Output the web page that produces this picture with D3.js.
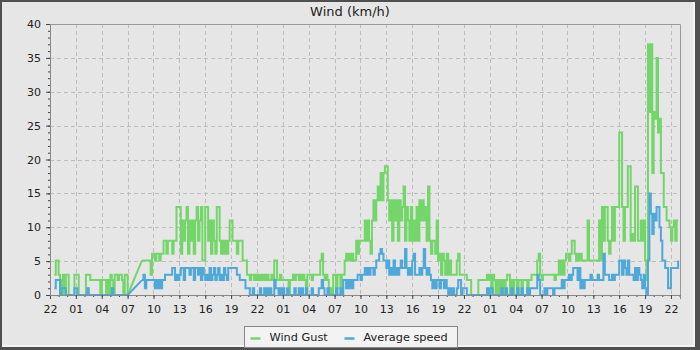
<!DOCTYPE html>
<html>
<head>
<meta charset="utf-8">
<script src="https://cdn.jsdelivr.net/npm/d3@7"></script>
<style>
	html, body { margin: 0; padding: 0; background: #e6e6e6; }
	svg { display: block; }
	text { font-family: "DejaVu Sans", sans-serif; fill: #222; }
</style>
</head>
<body>
<svg id="chart" width="700" height="350"></svg>
<script>
"use strict";

//readings every 10 minutes, starting 22:00 on the first evening. null = no reading
var startTime = new Date(2024, 0, 10, 22, 0);
var endTime = new Date(2024, 0, 13, 23, 3);
var stepMinutes = 10;
var seriesNames = ["Wind Gust", "Average speed"];
var yTicks = [0, 5, 10, 15, 20, 25, 30, 35, 40];

//one row per hour, six readings per row
var gust = [
	null, null, null, 3, 5.1, 5.1,        //22
	3, 2.2, 0, 3, 0, 3,                   //23
	3, 0, 0, 0, 0, 3,                     //00
	3, 3, 0, 0, 0, 0,                     //01
	0, 3, 3, 3, 2.2, 2.2,                 //02
	2.2, 2.2, 2.2, 2.2, 2.2, 0,           //03
	2.2, 2.2, 2.2, 0, 2.2, 0,             //04
	3, 2.2, 0, 3, 3, 2.2,                 //05
	3, 3, 2.2, 0, 3, 3,                   //06
	0, null, null, null, null, null,      //07
	null, null, null, null, 5.1, 5.1,     //08
	5.1, 5.1, 5.1, 5.1, 3, 6.1,           //09
	6.1, 5.1, 6.1, 6.1, 5.1, 6.1,         //10
	6.1, 8, 8, 6.1, 8, 8,                 //11
	8, 6.1, 8, 8, 13, 13,                 //12
	13, 6.1, 11, 8, 11, 13,               //13
	6.1, 11, 8, 11, 6.1, 11,              //14
	13, 8, 11, 13, 5.1, 5.1,              //15
	13, 13, 8, 11, 6.1, 11,               //16
	8, 6.1, 13, 13, 8, 6.1,               //17
	8, 6.1, 8, 6.1, 8, 11,                //18
	11, 8, 8, 8, 6.1, 8,                  //19
	8, 8, 5.1, 5.1, 5.1, 3,               //20
	3, 2.2, 3, 3, 2.2, 3,                 //21
	2.2, 3, 2.2, 3, 2.2, 3,               //22
	2.2, 3, 2.2, 2.2, 3, 2.2,             //23
	5.1, 5.1, 2.2, 2.2, 3, 2.2,           //00
	2.2, 2.2, 2.2, 2.2, 0, 2.2,           //01
	2.2, 3, 2.2, 3, 3, 2.2,               //02
	3, 2.2, 3, 2.2, 1, 3,                 //03
	3, 3, 2.2, 3, 3, 3,                   //04
	3, 3, 5.1, 6.1, 3, 2.2,               //05
	3, 2.2, 0, 1, 0, 3,                   //06
	3, 1, 3, 3, 1, 3,                     //07
	3, 5.1, 6.1, 5.1, 6.1, 5.1,           //08
	6.1, 5.1, 5.1, 8, 6.1, 8,             //09
	8, 8, 8, 11, 8, 11,                   //10
	8, 6.1, 11, 14, 11, 14,               //11
	16, 14, 18, 14, 18, 19,               //12
	19, 14, 11, 14, 8, 14,                //13
	11, 14, 8, 14, 11, 13,                //14
	16, 8, 13, 11, 8, 13,                 //15
	8, 11, 8, 13, 8, 14,                  //16
	11, 14, 11, 13, 8, 16,                //17
	8, 6.1, 8, 8, 6.1, 11,                //18
	5.1, 6.1, 3, 6.1, 5.1, 3,             //19
	6.1, 3, 5.1, 3, 3, 3,                 //20
	3, 5.1, 6.1, 3, 3, 3,                 //21
	3, 3, 2.2, 2.2, 2.2, 0,               //22
	0, 0, 0, 0, 2.2, 2.2,                 //23
	2.2, 2.2, 2.2, 2.2, 3, 2.2,           //00
	3, 0, 3, 2.2, 0, 2.2,                 //01
	0, 2.2, 0, 2.2, 0, 2.2,               //02
	3, 3, 0, 2.2, 0, 2.2,                 //03
	2.2, 0, 2.2, 2.2, 0, 2.2,             //04
	2.2, 2.2, 0, 2.2, 2.2, 3,             //05
	3, 3, 3, 5.1, 6.1, 3,                 //06
	2.2, 3, 3, 3, 3, 3,                   //07
	3, 3, 3, 2.2, 3, 3,                   //08
	5.1, 3, 5.1, 3, 5.1, 6.1,             //09
	6.1, 5.1, 6.1, 8, 8, 6.1,             //10
	5.1, 6.1, 5.1, 6.1, 5.1, 5.1,         //11
	5.1, 5.1, 11, 5.1, 5.1, 5.1,          //12
	5.1, 5.1, 5.1, 5.1, 11, 5.1,          //13
	13, 8, 13, 13, 8, 6.1,                //14
	8, 13, 8, 13, 13, 13,                 //15
	24, 24, 13, 8, 13, 13,                //16
	19, 19, 8, 9, 8, 16,                  //17
	16, 8, 8, 11, 8, 11,                  //18
	5.1, 2.2, 37, 27, 37, 18,             //19
	27, 26, 35, 24, 26, 18,               //20
	18, 13, 13, 11, 11, 10,               //21
	8, 10, 11, 8, 11, 11                  //22
];

var average = [
	null, null, null, 1, 2.2, 2.2,        //22
	2.2, 0, 1, 1, 1, 0,                   //23
	0, 0, 0, 0, 0, 1,                     //00
	1, 0, 0, 0, 0, 0,                     //01
	0, 0, 1, 0, 0, 0,                     //02
	0, 0, 0, 0, 0, 0,                     //03
	0, 0, 0, 0, 0, 0,                     //04
	0, 1, 0, 0, 0, 0,                     //05
	0, 0, 0, 0, 0, 0,                     //06
	0, null, null, null, null, null,      //07
	null, null, null, null, 2.2, 3,       //08
	1, 2.2, 2.2, 2.2, 2.2, 2.2,           //09
	2.2, 1, 2.2, 1, 2.2, 1,               //10
	2.2, 2.2, 3, 3, 3, 3,                 //11
	3, 4, 4, 2.2, 3, 2.2,                 //12
	3, 4, 4, 2.2, 4, 4,                   //13
	4, 3, 4, 4, 2.2, 4,                   //14
	4, 3, 4, 2.2, 4, 3,                   //15
	2.2, 3, 2.2, 4, 2.2, 3,               //16
	4, 2.2, 3, 4, 2.2, 3,                 //17
	2.2, 4, 3, 2.2, 4, 4,                 //18
	4, 4, 4, 4, 3, 3,                     //19
	2.2, 2.2, 2.2, 2.2, 1, 1,             //20
	1, 0, 0, 1, 0, 0,                     //21
	0, 0, 1, 0, 0, 1,                     //22
	0, 1, 0, 1, 0, 0,                     //23
	2.2, 1, 1, 0, 1, 0,                   //00
	1, 0, 0, 1, 0, 0,                     //01
	0, 0, 1, 0, 0, 1,                     //02
	0, 1, 0, 0, 1, 0,                     //03
	0, 0, 1, 0, 0, 0,                     //04
	0, 1, 1, 2.2, 1, 0,                   //05
	0, 1, 0, 0, 0, 0,                     //06
	0, 1, 0, 0, 1, 0,                     //07
	2.2, 2.2, 1, 2.2, 1, 2.2,             //08
	1, 2.2, 2.2, 2.2, 3, 3,               //09
	2.2, 3, 3, 4, 3, 4,                   //10
	3, 4, 4, 3, 4, 5.1,                   //11
	5.1, 6.1, 6.8, 6.1, 5.1, 5.1,         //12
	4, 5.1, 3, 4, 3, 5.1,                 //13
	3, 4, 3, 4, 5.1, 4,                   //14
	4, 6.8, 4, 3, 4, 3,                   //15
	5.1, 6.1, 3, 3, 3, 4,                 //16
	3, 4, 6.8, 4, 3, 4,                   //17
	3, 2.2, 1, 2.2, 1, 2.2,               //18
	2.2, 1, 2.2, 2.2, 1, 2.2,             //19
	1, 0, 1, 0, 1, 0,                     //20
	0, 1, 2.2, 2.2, 0, 1,                 //21
	1, 1, 0, 0, 0, 0,                     //22
	0, 0, 0, 0, 0, 0,                     //23
	0, 0, 0, 0, 1, 0,                     //00
	1, 1, 0, 0, 0, 0,                     //01
	0, 0, 1, 0, 0, 1,                     //02
	0, 0, 0, 1, 0, 0,                     //03
	0, 1, 0, 0, 1, 0,                     //04
	0, 0, 1, 0, 1, 1,                     //05
	1, 1, 1, 3, 2.2, 0,                   //06
	0, 0, 1, 0, 1, 1,                     //07
	1, 1, 0, 1, 1, 1,                     //08
	1, 1, 2.2, 1, 2.2, 2.2,               //09
	2.2, 3, 2.2, 3, 4, 4,                 //10
	4, 2.2, 4, 1, 2.2, 1,                 //11
	2.2, 2.2, 2.2, 2.2, 3, 2.2,           //12
	2.2, 2.2, 2.2, 3, 2.2, 2.2,           //13
	2.2, 6.1, 3, 3, 3, 2.2,               //14
	2.2, 3, 2.2, 3, 3, 3,                 //15
	5.1, 5.1, 3, 5.1, 4, 3,               //16
	5.1, 3, 3, 3, 2.2, 4,                 //17
	2.2, 4, 3, 2.2, 1, 3,                 //18
	1, 0, 5.1, 15, 12, 9,                 //19
	12, 11, 13, 13, 10, 8,                //20
	5.1, 5.1, 4, 4, 1, 1,                 //21
	4, 4, 4, 4, 4, 5.1                    //22
];

var colors = ["#74d66a", "#4ea8d9"];

var svg = d3.select("#chart");
var width = 700, height = 350;
var margin = {top: 24, right: 20, bottom: 55, left: 50};
var plotW = width - margin.left - margin.right;
var plotH = height - margin.top - margin.bottom;

//the outer frame, dark with a light inner edge bottom and right
svg.append("rect").attr("width", width).attr("height", height).style("fill", "#4f4f4f");
svg.append("rect").attr("x", 2).attr("y", 2).attr("width", 693).attr("height", 345).style("fill", "#f4f4f4");
svg.append("rect").attr("x", 2).attr("y", 2).attr("width", 691).attr("height", 343).style("fill", "#e6e6e6");

svg.append("text")
	.attr("x", 350)
	.attr("y", 16)
	.attr("text-anchor", "middle")
	.style("font-size", "13px")
	.text("Wind (km/h)");

var plot = svg.append("g").attr("transform", "translate(" + margin.left + "," + margin.top + ")");

var x = d3.scaleTime().domain([startTime, endTime]).range([0, plotW]);
var y = d3.scaleLinear().domain([0, 40]).range([plotH, 0]);

//split a series into runs of readings, the gaps between runs get a straight joining line
function toRuns(values){
	var runs = [], current = [];
	values.forEach(function(v, i){
		if(v === null){
			if(current.length) runs.push(current);
			current = [];
		} else {
			current.push({date: new Date(startTime.getTime() + i*stepMinutes*60000), value: v});
		}
	});
	if(current.length) runs.push(current);
	return runs;
}
var series = [toRuns(gust), toRuns(average)];

var majorHours = d3.timeHour.range(startTime, endTime, 3);
var allHours = d3.timeHour.range(startTime, endTime);

//dashed grid
plot.append("g").selectAll("line")
	.data(majorHours.slice(1))
	.enter().append("line")
	.attr("x1", function(d){ return Math.round(x(d)) + 0.5; })
	.attr("x2", function(d){ return Math.round(x(d)) + 0.5; })
	.attr("y1", 0).attr("y2", plotH)
	.style("stroke", "#bcbcbc").style("stroke-dasharray", "4,3");
plot.append("g").selectAll("line")
	.data(yTicks.slice(1, -1))
	.enter().append("line")
	.attr("x1", 0).attr("x2", plotW)
	.attr("y1", function(d){ return Math.round(y(d)) + 0.5; })
	.attr("y2", function(d){ return Math.round(y(d)) + 0.5; })
	.style("stroke", "#bcbcbc").style("stroke-dasharray", "4,3");

//plot outline top and right
plot.append("path")
	.attr("d", "M0.5,0.5H" + (plotW + 0.5) + "V" + plotH)
	.style("fill", "none").style("stroke", "#999");

var stepLine = d3.line()
	.curve(d3.curveStepAfter)
	.x(function(d){ return x(d.date); })
	.y(function(d){ return y(d.value); });
var straightLine = d3.line()
	.x(function(d){ return x(d.date); })
	.y(function(d){ return y(d.value); });

series.forEach(function(runs, s){
	var g = plot.append("g")
		.style("fill", "none")
		.style("stroke", colors[s])
		.style("stroke-width", 2)
		.style("stroke-linejoin", "miter");
	g.selectAll(".run")
		.data(runs)
		.enter().append("path")
		.attr("class", "run")
		.attr("d", stepLine);
	//joins across missing readings
	for(var r = 1; r < runs.length; r++){
		g.append("path").attr("d", straightLine([runs[r-1][runs[r-1].length - 1], runs[r][0]]));
	}
});

//axes, minor ticks first
var xMinor = plot.append("g").attr("transform", "translate(0," + plotH + ")")
	.call(d3.axisBottom(x).tickValues(allHours).tickSize(2).tickFormat(""));
var xAxis = plot.append("g").attr("transform", "translate(0," + plotH + ")")
	.call(d3.axisBottom(x).tickValues(majorHours).tickSize(4).tickPadding(6).tickFormat(d3.timeFormat("%H")));
var yMinor = plot.append("g")
	.call(d3.axisLeft(y).tickValues(d3.range(0, 41)).tickSize(2).tickFormat(""));
var yAxis = plot.append("g")
	.call(d3.axisLeft(y).tickValues(yTicks).tickSize(4).tickPadding(5));

[xMinor, xAxis, yMinor, yAxis].forEach(function(a){
	a.select(".domain").style("stroke", "#888");
	a.selectAll(".tick line").style("stroke", "#444");
	a.selectAll("text").style("font-size", "11px").style("font-family", "DejaVu Sans, sans-serif").style("fill", "#222");
});

//legend
var legend = svg.append("g").attr("transform", "translate(244.5,326.5)");
legend.append("rect")
	.attr("width", 213).attr("height", 21)
	.style("fill", "#f3f3f3").style("stroke", "#888");
var legendX = [6, 100];
seriesNames.forEach(function(name, i){
	legend.append("line")
		.attr("x1", legendX[i]).attr("x2", legendX[i] + 10)
		.attr("y1", 12).attr("y2", 12)
		.style("stroke", colors[i]).style("stroke-width", 2.5);
	legend.append("text")
		.attr("x", legendX[i] + 19)
		.attr("y", 14.5)
		.style("font-size", "11.3px")
		.text(name);
});
</script>
</body>
</html>
